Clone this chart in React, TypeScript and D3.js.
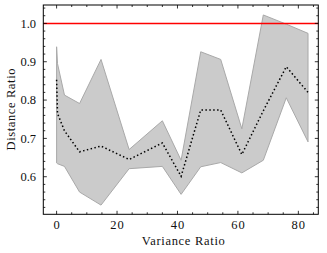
import React, { useEffect } from "react";
import * as d3 from "d3";

const varianceRatio = [0, 0.3, 2.6, 7.6, 14.7, 24, 35, 41.2, 47.7, 54.3, 61.3, 68.4, 76, 83.2];
const upperBound = [0.939, 0.895, 0.813, 0.791, 0.906, 0.671, 0.746, 0.643, 0.926, 0.906, 0.725, 1.022, 0.998, 0.974];
const meanRatio = [0.853, 0.765, 0.72, 0.665, 0.68, 0.645, 0.688, 0.601, 0.774, 0.774, 0.658, 0.772, 0.887, 0.82];
const lowerBound = [0.636, 0.634, 0.627, 0.56, 0.526, 0.621, 0.627, 0.554, 0.626, 0.637, 0.61, 0.643, 0.806, 0.691];
const referenceLevel = 1.0;
const xTicks = [0, 20, 40, 60, 80];
const yTicks = [0.6, 0.7, 0.8, 0.9, 1.0];
const xLabel = "Variance Ratio";
const yLabel = "Distance Ratio";

const W = 327;
const H = 253;
const M = { left: 43.3, top: 5, right: 8.7, bottom: 38.7 };
const TXT = { fontFamily: "'Liberation Serif', serif", fontSize: 12.5 };

export default function App() {
  useEffect(() => {
    document.body.style.margin = "0";
  }, []);

  const x = d3.scaleLinear().domain([-4.4, 86.6]).range([M.left, W - M.right]);
  const y = d3.scaleLinear().domain([0.502, 1.048]).range([H - M.bottom, M.top]);

  const pts = varianceRatio.map((v, i) => ({ x: v, lo: lowerBound[i], hi: upperBound[i], m: meanRatio[i] }));
  const area = d3.area<any>().x((d) => x(d.x)).y0((d) => y(d.lo)).y1((d) => y(d.hi));
  const line = d3.line<any>().x((d) => x(d.x)).y((d) => y(d.m));

  const x0 = M.left, x1 = W - M.right, y0 = H - M.bottom, y1 = M.top;
  const xMinor = d3.range(0, 86, 5).filter((v) => !xTicks.includes(v));
  const yMinor = d3.range(52, 105, 2).map((v) => v / 100).filter((v) => !yTicks.some((t) => Math.abs(t - v) < 1e-6));

  const majorLen = 3.5, minorLen = 2;

  return (
    <svg width={W} height={H} style={{ position: "absolute", left: 0, top: 0, background: "#fff" }}>
      <path d={area(pts) || ""} fill="#cbcbcb" stroke="#a9a9a9" strokeWidth={1} strokeLinejoin="miter" />
      <path d={line(pts) || ""} fill="none" stroke="#000" strokeWidth={1.5} strokeDasharray="1.5,2.4" />
      <line x1={x0} x2={x1} y1={y(referenceLevel)} y2={y(referenceLevel)} stroke="#ff0000" strokeWidth={1.5} />

      <g stroke="#000" strokeWidth={0.8}>
        {xTicks.map((t) => (
          <g key={"xm" + t}>
            <line x1={x(t)} x2={x(t)} y1={y0} y2={y0 - majorLen} />
            <line x1={x(t)} x2={x(t)} y1={y1} y2={y1 + majorLen} />
          </g>
        ))}
        {xMinor.map((t) => (
          <g key={"xn" + t}>
            <line x1={x(t)} x2={x(t)} y1={y0} y2={y0 - minorLen} />
            <line x1={x(t)} x2={x(t)} y1={y1} y2={y1 + minorLen} />
          </g>
        ))}
        {yTicks.map((t) => (
          <g key={"ym" + t}>
            <line x1={x0} x2={x0 + majorLen} y1={y(t)} y2={y(t)} />
            <line x1={x1} x2={x1 - majorLen} y1={y(t)} y2={y(t)} />
          </g>
        ))}
        {yMinor.map((t) => (
          <g key={"yn" + t}>
            <line x1={x0} x2={x0 + minorLen} y1={y(t)} y2={y(t)} />
            <line x1={x1} x2={x1 - minorLen} y1={y(t)} y2={y(t)} />
          </g>
        ))}
      </g>

      <rect x={x0} y={y1} width={x1 - x0} height={y0 - y1} fill="none" stroke="#000" strokeWidth={1} />

      {xTicks.map((t) => (
        <text key={"xl" + t} x={x(t)} y={228.8} textAnchor="middle" fill="#111" style={TXT}
          textLength={t === 0 ? undefined : 13.5} lengthAdjust="spacing">{t}</text>
      ))}
      {yTicks.map((t) => (
        <text key={"yl" + t} x={36} y={y(t)} dy="0.34em" textAnchor="end" fill="#111" style={TXT}
          textLength={15.5} lengthAdjust="spacing">{t.toFixed(1)}</text>
      ))}
      <text x={183.3} y={245} textAnchor="middle" fill="#111" style={TXT} textLength={83} lengthAdjust="spacing">{xLabel}</text>
      <text transform={`translate(15, 109.5) rotate(-90)`} textAnchor="middle" fill="#111" style={TXT}
        textLength={82} lengthAdjust="spacing">{yLabel}</text>
    </svg>
  );
}
